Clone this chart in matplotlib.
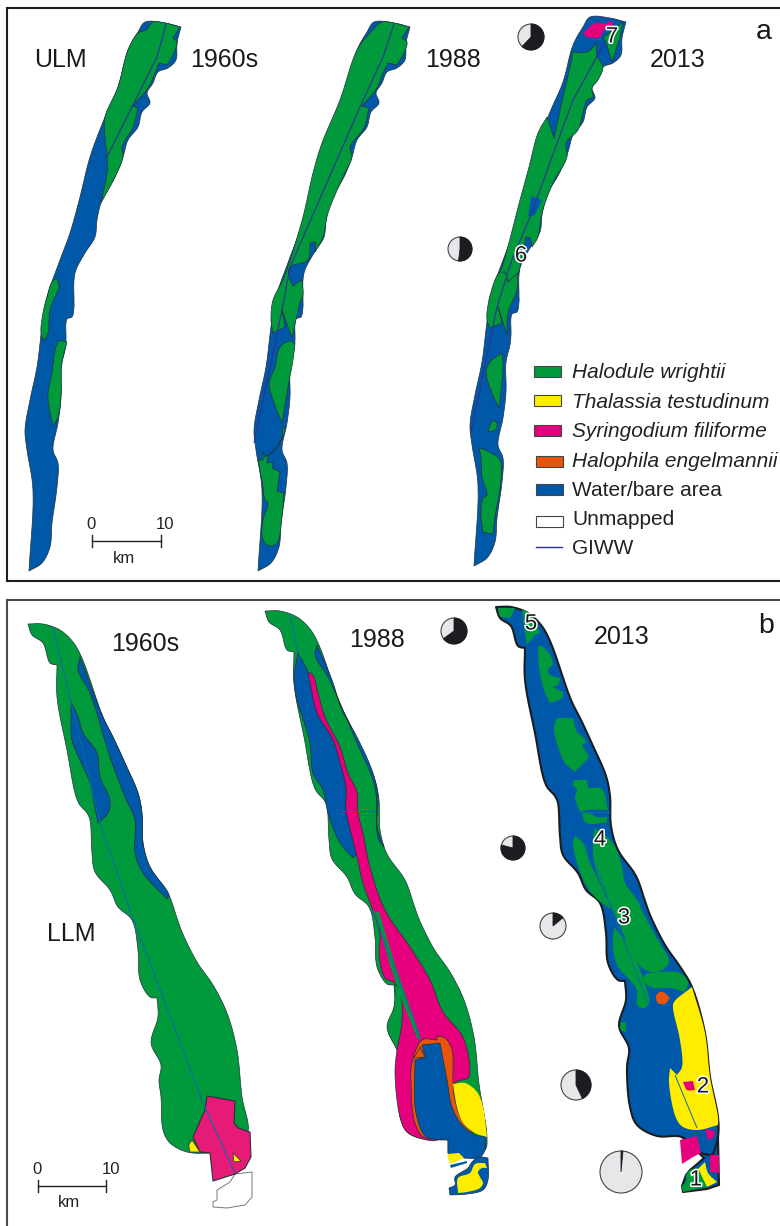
import numpy as np
import matplotlib
matplotlib.use("Agg")
import matplotlib.pyplot as plt
from matplotlib.patches import Polygon, Circle, Wedge, Rectangle
import matplotlib.patheffects as pe

plt.rcParams['font.family'] = ['Liberation Sans', 'DejaVu Sans']

GREEN, BLUE, PINK, PINK60, YELLOW, ORANGE = '#009a3d', '#0058a8', '#e6007e', '#e61b78', '#ffed00', '#e9540d'
EDGE, DARK, LIGHT = '#25303a', '#1b1d21', '#e6e7e9'
GIWW_A, GIWW_B = '#2e3192', '#0b6aa8'

# ---------- panel a, outline shared by the three maps ----------
A_OUTLINE = [(145,22),(165,23),(181,27),(177,43),(176,60),(168,68),(158,72),(153,83),(147,93),(150,103),(142,112),(138,127),(128,140),(123,157),(115,177),(102,200),(97,220),(95,237),(85,253),(75,273),(74,300),(74,307),(72,317),(67,319),(66,340),(65,350),(61,367),(61,397),(58,423),(53,450),(58,463),(57,487),(52,523),(50,547),(42,563),(29,571),(33,490),(27,450),(25,430),(30,400),(37,367),(42,327),(47,297),(60,260),(70,233),(80,197),(90,157),(105,117),(118,87),(128,50),(138,32)]
A_SHIFT_88 = (229, 0)
A_SHIFT_13 = (445, -5)

A60_GREEN_TOP = [(153,22),(165,23),(180,27),(173,38),(177,42),(173,55),(167,65),(159,63),(155,73),(148,88),(133,106),(138,108),(133,127),(122,147),(123,157),(115,177),(101,203),(107,173),(107,157),(105,137),(105,117),(118,87),(128,50),(138,33),(146,30)]
A60_GREEN_2 = [(57,278),(59,287),(58,290),(50,310),(48,333),(44,341),(41,333),(43,313),(47,297),(52,282)]
A60_GREEN_3 = [(59,340),(67,342),(62,363),(61,397),(58,417),(53,426),(49,407),(48,393),(52,373),(55,350)]
A60_GIWW = [(166,24),(157,57),(132,107),(107,157)]

A88_GREEN_TOP = [(382,22),(394,23),(409,27),(402,38),(407,42),(403,55),(397,65),(388,63),(383,73),(377,88),(362,106),(369,108),(364,128),(350,147),(352,157),(343,177),(328,213),(323,237),(315,252),(316,242),(310,243),(308,260),(290,267),(289,277),(293,286),(302,280),(303,295),(300,303),(292,338),(282,310),(285,327),(273,333),(271,320),(273,300),(282,282),(284,277),(290,260),(303,217),(313,173),(322,143),(340,100),(357,50),(370,33)]
A88_GREEN_2 = [(290,341),(295,343),(293,360),(288,387),(282,423),(273,400),(269,383),(275,367),(280,347)]
A88_GREEN_3 = [(282,426),(285,430),(277,447),(268,457),(267,463),(273,462),(272,468),(280,472),(277,491),(284,493),(282,517),(277,543),(270,546),(263,540),(263,520),(268,503),(265,500),(263,487),(260,470),(258,460),(263,460),(263,452),(265,457),(275,450),(282,437)]
A88_GIWW = [(394,24),(383,57),(360,107),(290,267),(282,310),(254,443)]

A13_GREEN_TOP = [(572,52),(587,52),(597,43),(597,55),(603,67),(598,80),(592,88),(593,97),(587,100),(583,113),(578,130),(566,143),(567,157),(553,183),(542,213),(538,237),(532,247),(530,238),(526,237),(520,267),(518,273),(508,282),(505,272),(502,273),(499,290),(492,300),(489,300),(499,273),(502,267),(520,200),(529,167),(538,133),(547,117),(554,138),(563,97),(572,57)]
A13_GREEN_LOBE = [(517,290),(508,313),(507,335),(498,307),(502,323),(490,328),(487,320),(489,300),(499,273),(505,272),(508,282),(518,273)]
A13_GREEN_TIP = [(623,22),(620,37),(612,62),(606,42),(603,38),(612,30)]
A13_GREEN_1 = [(502,353),(503,367),(499,408),(492,393),(486,372),(490,362)]
A13_GREEN_2 = [(493,420),(497,423),(495,430),(488,432),(490,425)]
A13_GREEN_3 = [(479,448),(485,450),(500,460),(501,480),(495,517),(493,534),(483,532),(481,517),(483,498),(487,495),(482,477),(481,457)]
A13_BLUE_1 = [(531,196),(542,200),(535,215),(528,217)]
A13_PINK = [(583,33),(595,23),(607,24),(608,21),(613,22),(612,28),(605,29),(600,37),(587,37)]
A13_GIWW = [(605,42),(573,100),(530,217),(512,260),(497,307),(471,433)]

# ---------- panel b, outline shared by the three maps ----------
B_RIGHT = [(28,624),(43,624),(60,630),(73,642),(82,658),(103,717),(113,737),(125,763),(138,793),(142,813),(143,843),(150,867),(168,893),(177,918),(182,932),(197,962),(213,985),(227,1013),(237,1050),(242,1097)]
B_LEFT = [(161,1097),(159,1080),(161,1065),(151,1043),(158,1017),(157,998),(150,997),(140,980),(138,950),(132,920),(118,907),(110,890),(95,872),(92,853),(90,820),(87,813),(78,802),(67,750),(57,697),(57,665),(50,663),(43,643),(32,635)]
B_SHIFT_88 = (237, -13)
B_SHIFT_13 = (468, -17)

B60_BOTTOM = [(248,1132),(235,1150),(210,1153),(187,1152),(170,1143),(163,1130)]
B60_BLUE_1 = [(80,657),(103,717),(113,737),(125,763),(138,793),(142,813),(143,843),(150,867),(169,895),(167,899),(143,873),(135,853),(135,820),(125,797),(110,757),(90,693),(78,670)]
B60_BLUE_2 = [(71,702),(78,717),(83,733),(97,753),(100,777),(110,800),(108,813),(98,823),(94,803),(90,783),(72,740),(71,717)]
B60_PINK = [(207,1096),(235,1101),(234,1123),(238,1128),(250,1132),(251,1157),(245,1168),(235,1174),(213,1181),(210,1153),(200,1152),(193,1137),(205,1110)]
B60_YELLOW_1 = [(192,1140),(200,1152),(190,1152),(189,1145)]
B60_YELLOW_2 = [(233,1153),(241,1161),(234,1162)]
B60_UNMAPPED = [(235,1174),(252,1172),(252,1197),(245,1205),(227,1208),(213,1207),(213,1202),(217,1200),(217,1190),(230,1182)]
B60_GIWW = [(53,628),(71,702),(100,823),(130,910),(203,1103),(235,1173)]

B88_BOTTOM = [(487,1137),(485,1150),(465,1158),(448,1153),(448,1140),(423,1139),(407,1132),(400,1117)]
B88_BLUE_1 = [(298,653),(308,672),(312,693),(317,713),(333,740),(340,763),(346,787),(346,810),(351,833),(357,853),(353,858),(340,843),(328,813),(323,790),(313,773),(310,743),(305,725),(297,700),(294,677)]
B88_BLUE_2 = [(317,645),(332,680),(342,710),(357,737),(373,773),(378,797),(377,827),(384,847),(378,838),(375,787),(357,743),(340,703),(328,677),(315,655)]
B88_PINK = [(308,672),(313,675),(318,693),(325,717),(340,747),(348,773),(357,792),(358,813),(363,833),(370,867),(385,910),(410,947),(430,980),(443,1012),(463,1037),(470,1070),(468,1078),(455,1083),(455,1120),(437,1140),(423,1139),(407,1132),(400,1117),(395,1073),(397,1050),(402,1020),(399,990),(395,983),(385,978),(379,953),(380,935),(372,908),(363,883),(357,857),(351,833),(346,810),(346,787),(340,763),(333,740),(317,713),(312,693)]
B88_GREEN_LOBE = [(395,984),(394,1007),(387,1027),(397,1050),(402,1020),(400,990)]
B88_GREEN_STRIP = [(375,912),(379,912),(395,965),(418,1030),(421,1040),(417,1038),(400,995),(390,965)]
B88_ORANGE = [(422,1040),(437,1040),(437,1036),(445,1038),(452,1050),(453,1080),(455,1100),(463,1123),(473,1133),(452,1135),(425,1138),(415,1123),(411,1083),(412,1063)]
B88_BLUE_3 = [(422,1045),(440,1043),(447,1080),(452,1107),(462,1125),(475,1135),(486,1137),(485,1150),(480,1157),(465,1158),(448,1153),(448,1140),(428,1138),(422,1132),(415,1107),(415,1060),(425,1057)]
B88_ORANGE_2 = [(420,1047),(425,1057),(414,1058)]
B88_YELLOW = [(453,1084),(465,1083),(477,1092),(483,1107),(487,1137),(475,1133),(463,1123),(457,1107)]
B88_YELLOW_2 = [(447,1154),(459,1153),(464,1158),(450,1164)]
B88_BLUE_4 = [(450,1165),(467,1161),(467,1163),(451,1168)]
B88_BLUE_5 = [(478,1157),(488,1158),(488,1180),(483,1190),(467,1194),(450,1195),(449,1188),(455,1185),(455,1177),(468,1168),(472,1162)]
B88_YELLOW_3 = [(458,1178),(470,1173),(475,1164),(485,1163),(487,1168),(482,1168),(478,1172),(480,1177),(483,1183),(480,1188),(467,1192),(458,1193)]
B88_GIWW_1 = [(290,615),(298,653)]
B88_GIWW_2 = [(346,811),(376,811)]
B88_GIWW_3 = [(373,910),(420,1038)]

B13_BOTTOM = [(692,987),(705,1033),(710,1077),(718,1117),(718,1137),(713,1155),(701,1153),(682,1137),(657,1136),(637,1125),(630,1107),(627,1067)]
B13_BASE_2 = [(682,1137),(701,1136),(718,1137),(719,1185),(707,1189),(683,1192),(682,1186),(686,1175),(690,1170),(696,1165),(704,1158)]
B13_GREEN_0 = [(498,608),(515,608),(510,618),(500,616)]
B13_GREEN_1 = [(522,610),(530,613),(540,633),(535,635),(527,645),(523,620)]
B13_GREEN_2 = [(538,646),(543,647),(553,663),(548,670),(550,675),(560,678),(558,685),(552,687),(563,692),(562,698),(550,703),(545,693),(539,667)]
B13_GREEN_3 = [(557,718),(573,718),(577,732),(583,737),(586,742),(582,745),(589,757),(575,772),(565,763),(558,747),(554,728)]
B13_GREEN_4 = [(574,780),(587,780),(588,788),(602,789),(608,810),(588,810),(580,812),(575,797),(577,790),(573,785)]
B13_GREEN_5 = [(582,813),(589,813),(597,817),(607,817),(607,822),(592,824),(585,822)]
B13_GREEN_6 = [(575,836),(583,843),(590,863),(597,877),(612,910),(598,900),(587,887),(577,863),(573,843)]
B13_GREEN_7 = [(595,828),(613,843),(622,867),(625,883),(637,900),(643,913),(658,940),(669,962),(662,970),(650,972),(633,958),(623,933),(612,908),(595,867),(593,840)]
B13_GREEN_8 = [(614,927),(630,948),(647,990),(649,1003),(643,1009),(637,1005),(637,990),(628,978),(618,967),(613,947)]
B13_GREEN_9 = [(645,975),(662,972),(680,973),(688,982),(685,992),(670,988),(653,988),(643,982)]
B13_GREEN_10 = [(620,1023),(626,1022),(626,1032),(621,1030)]
B13_GREEN_11 = [(690,1170),(698,1168),(707,1187),(683,1192),(682,1186),(686,1182),(686,1175)]
B13_ORANGE = [(658,993),(663,992),(670,998),(665,1004),(658,1003),(656,997)]
B13_YELLOW = [(692,987),(705,1033),(710,1077),(718,1117),(718,1125),(698,1130),(683,1127),(676,1118),(669,1083),(670,1068),(677,1075),(682,1067),(680,1040),(673,1008),(674,1002)]
B13_YELLOW_2 = [(705,1162),(697,1170),(707,1187),(717,1182),(708,1173)]
B13_PINK_1 = [(683,1082),(693,1081),(695,1090),(687,1090)]
B13_PINK_2 = [(705,1129),(715,1131),(713,1138),(708,1140)]
B13_PINK_3 = [(680,1140),(697,1136),(701,1153),(693,1157),(682,1164)]
B13_PINK_4 = [(710,1155),(719,1155),(719,1173),(710,1172)]
B13_GIWW_1 = [(675,1075),(697,1128)]
B13_GIWW_2 = [(595,863),(612,910),(648,1003)]
B13_GIWW_3 = [(579,812),(611,812)]
B13_GIWW_4 = [(522,612),(527,633)]

# ---------- pies: fraction of dark sector, clockwise from the top ----------
PIE_CENTERS = [(531,37),(460,249),(454,631),(513,848),(553,926),(576,1085),(621,1172)]
PIE_RADII = [13,12,13,12,13,15,21]
PIE_FRACTIONS = [0.62,0.52,0.65,0.79,0.14,0.43,0.015]

# ---------- text ----------
TITLES = [('ULM',34,67,18),('1960s',190,67,18),('1988',425,67,18),('2013',650,67,18),
          ('1960s',111,651,18),('1988',349,647,18),('2013',594,644,18),('LLM',47,941,18),('a',756,39,20.5),('b',758,633,20.5)]
SITE_LABELS = [('7',612,37),('6',521,256),('5',531,624),('4',600,840),('3',624,918),('2',703,1087),('1',696,1180)]
LEGEND_LABELS = ['Halodule wrightii','Thalassia testudinum','Syringodium filiforme','Halophila engelmannii','Water/bare area','Unmapped','GIWW']
LEGEND_COLORS = [GREEN,YELLOW,PINK,ORANGE,BLUE,'white',None]
LEGEND_Y = [371,400,430,461,489,521,547]
LEGEND_BASE = [378,408,437,467,496,525,554]
LEGEND_X0 = [534,534,534,536,536,536,536]

fig = plt.figure(figsize=(7.8,12.26),dpi=100)
ax = fig.add_axes([0,0,1,1])
ax.set_xlim(0,780); ax.set_ylim(1226,0); ax.axis('off')

def add_corners(p, limit=70):
    N=len(p); out=[]
    for i in range(N):
        a=p[i]-p[i-1]; b=p[(i+1)%N]-p[i]
        c=np.dot(a,b)/(np.linalg.norm(a)*np.linalg.norm(b)+1e-9)
        out.append(p[i])
        if np.degrees(np.arccos(np.clip(c,-1,1)))>limit: out.append(p[i].copy())
    return np.array(out)

def spline(pts, n=6):
    p = add_corners(np.asarray(pts,float)); N=len(p); out=[]
    for i in range(N):
        p0,p1,p2,p3 = p[(i-1)%N],p[i],p[(i+1)%N],p[(i+2)%N]
        if np.allclose(p1,p2):
            out.append(p1); continue
        if np.allclose(p0,p1): p0 = p1-(p2-p1)
        if np.allclose(p2,p3): p3 = p2+(p2-p1)
        t1 = np.linalg.norm(p1-p0)**.5
        t2 = t1+np.linalg.norm(p2-p1)**.5
        t3 = t2+np.linalg.norm(p3-p2)**.5
        for t in np.linspace(t1,t2,n,endpoint=False):
            a1=(t1-t)/t1*p0+t/t1*p1
            a2=(t2-t)/(t2-t1)*p1+(t-t1)/(t2-t1)*p2
            a3=(t3-t)/(t3-t2)*p2+(t-t2)/(t3-t2)*p3
            b1=(t2-t)/t2*a1+t/t2*a2
            b2=(t3-t)/(t3-t1)*a2+(t-t1)/(t3-t1)*a3
            out.append((t2-t)/(t2-t1)*b1+(t-t1)/(t2-t1)*b2)
    return np.array(out)

Z=[1]
def shape(pts,color,shift=(0,0),smooth=True,lw=0.5,ec=EDGE):
    p = np.asarray(pts,float)+np.asarray(shift)
    if smooth: p = spline(p)
    Z[0]+=1
    ax.add_patch(Polygon(p,closed=True,fc=color,ec=ec,lw=lw,zorder=Z[0],joinstyle='round'))

def line(pts,color,lw=0.8):
    p=np.asarray(pts,float); Z[0]+=1
    ax.plot(p[:,0],p[:,1],color=color,lw=lw,zorder=Z[0],solid_capstyle='butt')

# panel a ---------------------------------------------------------------
shape(A_OUTLINE,BLUE)
shape(A60_GREEN_TOP,GREEN); shape(A60_GREEN_2,GREEN); shape(A60_GREEN_3,GREEN)
line(A60_GIWW,GIWW_A)

shape(A_OUTLINE,BLUE,A_SHIFT_88)
shape(A88_GREEN_TOP,GREEN); shape(A88_GREEN_2,GREEN); shape(A88_GREEN_3,GREEN)
line(A88_GIWW,GIWW_A)

shape(A_OUTLINE,BLUE,A_SHIFT_13)
shape(A13_GREEN_TOP,GREEN); shape(A13_GREEN_LOBE,GREEN); shape(A13_GREEN_TIP,GREEN,smooth=False)
for g in (A13_GREEN_1,A13_GREEN_2,A13_GREEN_3): shape(g,GREEN)
shape(A13_BLUE_1,BLUE,smooth=False,lw=0); shape(A13_PINK,PINK,lw=0)
line(A13_GIWW,GIWW_A)

# panel b ---------------------------------------------------------------
s60 = B_RIGHT+B60_BOTTOM+B_LEFT
shape(s60,GREEN)
shape(B60_BLUE_1,BLUE); shape(B60_BLUE_2,BLUE)
shape(B60_UNMAPPED,'white',smooth=False,lw=0.7,ec='#777777')
shape(B60_PINK,PINK60,smooth=False,lw=0.8)
shape(B60_YELLOW_1,YELLOW); shape(B60_YELLOW_2,YELLOW,smooth=False)
line(B60_GIWW,GIWW_B)

s88 = [(x+B_SHIFT_88[0],y+B_SHIFT_88[1]) for x,y in B_RIGHT]+B88_BOTTOM+[(x+B_SHIFT_88[0],y+B_SHIFT_88[1]) for x,y in B_LEFT]
shape(s88,GREEN)
shape(B88_BLUE_1,BLUE); shape(B88_BLUE_2,BLUE)
shape(B88_PINK,PINK)
shape(B88_GREEN_LOBE,GREEN); shape(B88_GREEN_STRIP,GREEN,smooth=False,lw=0)
shape(B88_ORANGE,ORANGE); shape(B88_BLUE_3,BLUE); shape(B88_ORANGE_2,ORANGE,smooth=False)
shape(B88_YELLOW,YELLOW,lw=0)
shape(B88_YELLOW_2,YELLOW,smooth=False,lw=0); shape(B88_BLUE_4,BLUE,smooth=False,lw=0)
shape(B88_BLUE_5,BLUE); shape(B88_YELLOW_3,YELLOW,lw=0)
for g in (B88_GIWW_1,B88_GIWW_2,B88_GIWW_3): line(g,GIWW_B)

s13 = [(x+B_SHIFT_13[0],y+B_SHIFT_13[1]) for x,y in B_RIGHT[:17]]+B13_BOTTOM+[(x+B_SHIFT_13[0],y+B_SHIFT_13[1]) for x,y in B_LEFT[2:]]
shape(B13_BASE_2,BLUE,smooth=False,lw=1.5,ec=DARK)
shape(s13,BLUE,lw=1.5,ec=DARK)
for g in (B13_GREEN_0,B13_GREEN_1,B13_GREEN_2,B13_GREEN_3,B13_GREEN_4,B13_GREEN_5,B13_GREEN_6,B13_GREEN_7,B13_GREEN_8,B13_GREEN_9,B13_GREEN_10):
    shape(g,GREEN,lw=0)
shape(B13_ORANGE,ORANGE,lw=0)
shape(B13_YELLOW,YELLOW,lw=0)
shape(B13_PINK_1,PINK,lw=0); shape(B13_PINK_2,PINK,lw=0)
shape(B13_PINK_3,PINK,smooth=False,lw=0); shape(B13_PINK_4,PINK,smooth=False,lw=0)
shape(B13_YELLOW_2,YELLOW,lw=0); shape(B13_GREEN_11,GREEN,lw=0)
for g in (B13_GIWW_1,B13_GIWW_2,B13_GIWW_3,B13_GIWW_4): line(g,GIWW_B,0.7)

# pies --------------------------------------------------------------------
for (cx,cy),r,f in zip(PIE_CENTERS,PIE_RADII,PIE_FRACTIONS):
    ax.add_patch(Circle((cx,cy),r,fc=LIGHT,ec='#444444',lw=0.8,zorder=200))
    ax.add_patch(Wedge((cx,cy),r,-90,-90+360*f,fc=DARK,ec=DARK,lw=0.6,zorder=201))

# frames ------------------------------------------------------------------
ax.plot([780,7,7,780],[8,8,581,581],color=DARK,lw=1.5,zorder=300,solid_joinstyle='miter')
ax.plot([780,7,7],[600,600,1226],color='#4a4a4a',lw=1.5,zorder=300,solid_joinstyle='miter')

# texts -------------------------------------------------------------------
for t,x,y,s in TITLES:
    ax.text(x,y,t,fontsize=s,ha='left',va='baseline',color='#1a1a1a',zorder=310)
for t,x,y in SITE_LABELS:
    ax.text(x,y,t,fontsize=16,ha='center',va='center',color='#1a1a1a',zorder=310,
            path_effects=[pe.withStroke(linewidth=2.2,foreground='white')])

# scale bars --------------------------------------------------------------
for x0,x1,y,lab_y,km_y,x10 in ((92,161,541,529,563,165),(38,106,1186,1174,1207,111)):
    ax.plot([x0,x1],[y,y],color='#222222',lw=1,zorder=310)
    for x in (x0,x1): ax.plot([x,x],[y-6,y+6],color='#222222',lw=1,zorder=310)
    ax.text(x0-1,lab_y,'0',fontsize=12,ha='center',va='baseline',color='#222222')
    ax.text(x10,lab_y,'10',fontsize=12,ha='center',va='baseline',color='#222222')
    ax.text((x0+x1)/2-3,km_y,'km',fontsize=12,ha='center',va='baseline',color='#222222')

# legend ------------------------------------------------------------------
for lab,c,y,b,x0 in zip(LEGEND_LABELS,LEGEND_COLORS,LEGEND_Y,LEGEND_BASE,LEGEND_X0):
    if c is None:
        ax.plot([x0,x0+26],[y,y],color=GIWW_A,lw=1,zorder=310)
    else:
        ax.add_patch(Rectangle((x0,y-5.5),27,11,fc=c,ec='#444444',lw=0.8,zorder=310))
    style = 'italic' if lab not in ('Water/bare area','Unmapped','GIWW') else 'normal'
    ax.text(572,b,lab,fontsize=15,style=style,ha='left',va='baseline',color='#222222',zorder=310)

fig.savefig('out.png',dpi=100)
